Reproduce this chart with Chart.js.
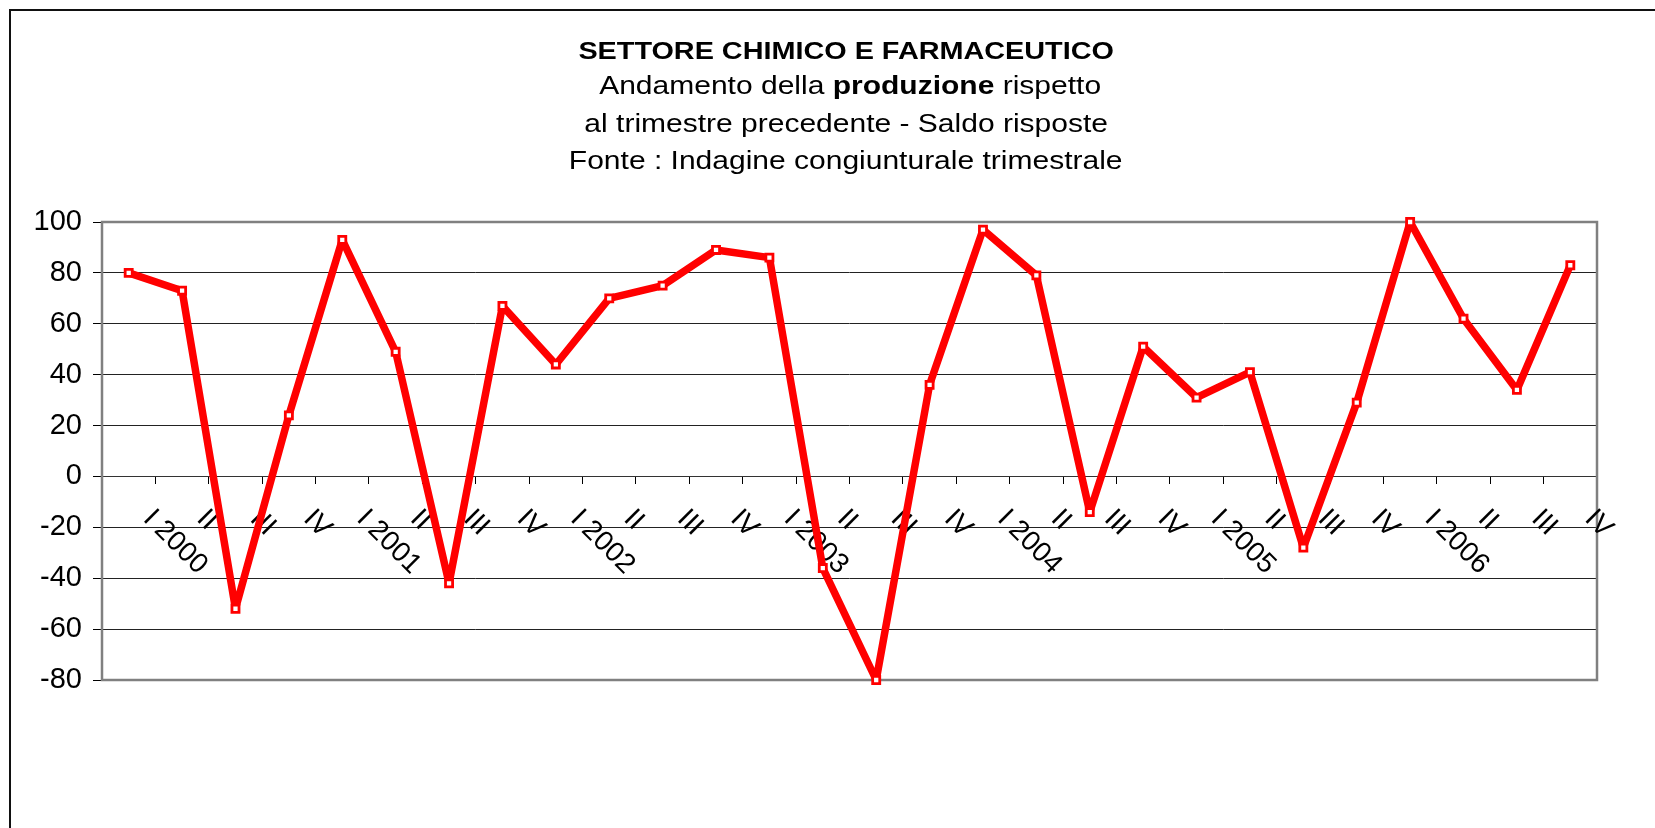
<!DOCTYPE html>
<html>
<head>
<meta charset="utf-8">
<script src="https://cdn.jsdelivr.net/npm/chart.js@4.4.1/dist/chart.umd.min.js"></script>
<style>
  html, body { margin: 0; padding: 0; background: #fff; overflow: hidden; }
  #wrap { position: relative; width: 1655px; height: 828px; overflow: hidden; }
  #frame { position: absolute; left: 9px; top: 9px; width: 2000px; height: 2000px; border: 2px solid #111; }
  canvas { position: absolute; left: 0; top: 0; }
  .tl { position: absolute; left: 0; width: 1692px; text-align: center; line-height: 35px; white-space: nowrap;
        font-family: "Liberation Sans", Arial, sans-serif; color: #000; }
  .tl span.in { display: inline-block; transform: scaleX(1.2); }
  #t1 { top: 33px; font-size: 24px; font-weight: bold; }
  #t2 { top: 68px; font-size: 25px; left: 4px; }
  #t3 { top: 106px; font-size: 25px; }
  #t4 { top: 143px; font-size: 25px; }
</style>
</head>
<body>
<div id="wrap">
  <div id="frame"></div>
  <canvas id="chart" width="1655" height="828"></canvas>
  <div class="tl" id="t1"><span class="in">SETTORE CHIMICO E FARMACEUTICO</span></div>
  <div class="tl" id="t2"><span class="in">Andamento della <b>produzione</b> rispetto</span></div>
  <div class="tl" id="t3"><span class="in">al trimestre precedente - Saldo risposte</span></div>
  <div class="tl" id="t4"><span class="in">Fonte : Indagine congiunturale trimestrale</span></div>
</div>
<script>
// ── data ──
const quarters = [
  'I 2000', 'II', 'III', 'IV',
  'I 2001', 'II', 'III', 'IV',
  'I 2002', 'II', 'III', 'IV',
  'I 2003', 'II', 'III', 'IV',
  'I 2004', 'II', 'III', 'IV',
  'I 2005', 'II', 'III', 'IV',
  'I 2006', 'II', 'III', 'IV'
];
const saldo = [
  80, 73, -52, 24,
  93, 49, -42, 67,
  44, 70, 75, 89,
  86, -36, -80, 36,
  97, 79, -14, 51,
  31, 41, -28, 29,
  100, 62, 34, 83
];
const yMin = -80, yMax = 100, yStep = 20;

// Excel-style labels: rotated 45deg clockwise, hanging below the zero line
const quarterLabels = {
  id: 'quarterLabels',
  beforeDatasetsDraw(chart) {
    const { ctx, scales: { x, y } } = chart;
    const top = y.getPixelForValue(0) + 38;
    ctx.save();
    ctx.font = '28px "Liberation Sans", Arial, sans-serif';
    ctx.fillStyle = '#000';
    ctx.textAlign = 'left';
    ctx.textBaseline = 'middle';
    quarters.forEach((lab, i) => {
      ctx.save();
      ctx.translate(x.getPixelForValue(i) + 19, top);
      ctx.rotate(Math.PI / 4);
      ctx.fillText(lab, 0, 0);
      ctx.restore();
    });
    ctx.restore();
  }
};

// grey plot-area border
const plotBorder = {
  id: 'plotBorder',
  beforeDatasetsDraw(chart) {
    const { ctx, chartArea: a } = chart;
    ctx.save();
    ctx.strokeStyle = '#808080';
    ctx.lineWidth = 2.5;
    ctx.strokeRect(a.left, a.top, a.right - a.left, a.bottom - a.top);
    ctx.restore();
  }
};

new Chart(document.getElementById('chart'), {
  type: 'line',
  data: {
    labels: quarters,
    datasets: [{
      data: saldo,
      borderColor: '#ff0000',
      borderWidth: 7.5,
      borderJoinStyle: 'bevel',
      tension: 0,
      pointStyle: 'rect',
      pointRadius: 5,
      pointBorderWidth: 2.8,
      pointBorderColor: '#ff0000',
      pointBackgroundColor: '#ffffff',
      clip: false
    }]
  },
  options: {
    responsive: false,
    animation: false,
    layout: { padding: { left: 0, right: 58, top: 222, bottom: 148 } },
    plugins: { legend: { display: false }, tooltip: { enabled: false }, title: { display: false } },
    scales: {
      x: {
        type: 'category',
        position: { y: 0 },
        offset: true,
        grid: { offset: true, drawOnChartArea: false, drawTicks: true, tickLength: 7, color: '#000', lineWidth: 1 },
        border: { display: true, color: '#333', width: 1 },
        ticks: { display: false }
      },
      y: {
        min: yMin,
        max: yMax,
        afterFit: (s) => { s.width = 102; },
        ticks: {
          stepSize: yStep,
          padding: 11,
          color: '#000',
          font: { family: '"Liberation Sans", Arial, sans-serif', size: 29 }
        },
        grid: { color: '#222', lineWidth: 1, tickLength: 9, tickColor: '#000' },
        border: { display: false }
      }
    }
  },
  plugins: [plotBorder, quarterLabels]
});
</script>
</body>
</html>
